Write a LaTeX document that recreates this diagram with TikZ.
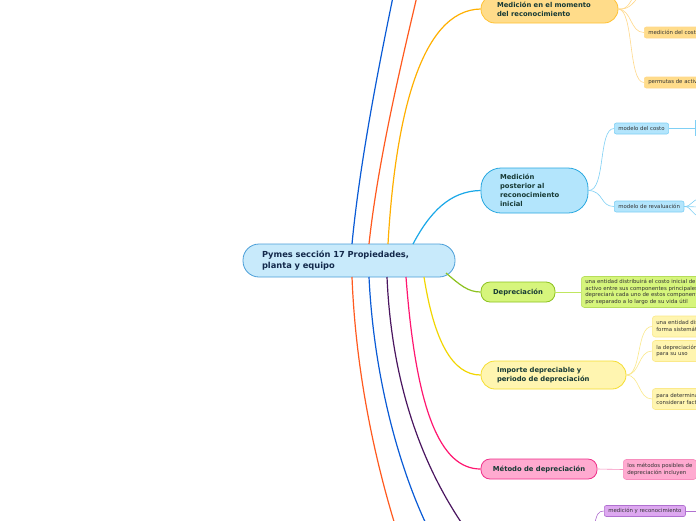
\documentclass[tikz,border=0pt]{standalone}
\usepackage{fontspec}
\setmainfont{DejaVu Sans}
\begin{document}
\begin{tikzpicture}[x=1pt,y=-1pt,
  conn/.style={line width=1.2pt},
  subconn/.style={line width=0.6pt},
  mainbox/.style={draw, line width=0.8pt, font=\bfseries\fontsize{6.8}{8.8}\selectfont, text=maintext, align=left, inner ysep=0pt},
  subbox/.style={draw, line width=0.6pt, rounded corners=2pt, font=\fontsize{5.4}{6.6}\selectfont, text=subtext, align=left, inner xsep=4pt, inner ysep=0pt, anchor=west}
]
\definecolor{maintext}{HTML}{173A35}
\definecolor{centext}{HTML}{13294B}
\definecolor{subtext}{HTML}{333333}
\definecolor{cenfill}{HTML}{C8EAFB}
\definecolor{cenline}{HTML}{4A9ED8}
\definecolor{orl}{HTML}{FFB000}
\definecolor{orf}{HTML}{FFDC8A}
\definecolor{orb}{HTML}{FFC233}
\definecolor{orsub}{HTML}{FFD98A}
\definecolor{cyl}{HTML}{1AA8E8}
\definecolor{cyf}{HTML}{B3E5FC}
\definecolor{cyb}{HTML}{29A8E0}
\definecolor{cysub}{HTML}{7FD0F5}
\definecolor{grl}{HTML}{8DC21F}
\definecolor{grf}{HTML}{D6F57C}
\definecolor{grsub}{HTML}{B6DE5A}
\definecolor{yel}{HTML}{F2D600}
\definecolor{yef}{HTML}{FFF5B0}
\definecolor{yeb}{HTML}{F5DD30}
\definecolor{yesub}{HTML}{FBE98A}
\definecolor{pkl}{HTML}{FF1670}
\definecolor{pkf}{HTML}{FFAAD0}
\definecolor{pkb}{HTML}{F0308A}
\definecolor{pksub}{HTML}{F78DBD}
\definecolor{pul}{HTML}{4A1660}
\definecolor{puf}{HTML}{DDA8F0}
\definecolor{pub}{HTML}{B070D0}
\definecolor{bll}{HTML}{0A5BD6}
\definecolor{rdl}{HTML}{FF5A1F}

\useasboundingbox (0,0) rectangle (696,520);
\clip (0,0) rectangle (696,520);
\fill[white] (0,0) rectangle (696,520);

% central node
\node[draw=cenline, fill=cenfill, line width=0.8pt, rounded corners=16pt,
  minimum height=33pt, text width=174pt, inner xsep=19pt, inner ysep=0pt,
  align=left, text=centext, font=\bfseries\fontsize{8.3}{11}\selectfont]
  (c) at (349,260.5) {Pymes sección 17 Propiedades,\\planta y equipo};

% coordinates on the central node border
\coordinate (tB) at (352,244);
\coordinate (tR) at (369,244);
\coordinate (tO) at (388,244);
\coordinate (tC) at (413,244);
\coordinate (bR) at (352,277);
\coordinate (bB) at (369,277);
\coordinate (bP) at (387,277);
\coordinate (bK) at (406,277);
\coordinate (bY) at (424,277);
\coordinate (bG) at (446,273);

% off-picture ends
\coordinate (eB) at (394,-8);
\coordinate (eR) at (418,-8);
\coordinate (eRb) at (396,528);
\coordinate (eBb) at (428,528);
\coordinate (ePb) at (465,528);

% main nodes
\node[mainbox, draw=orb, fill=orf, rounded corners=14pt, minimum height=28pt, text width=105pt, inner xsep=16pt]
  (o) at (549.5,9) {Medición en el momento\\del reconocimiento};
\node[mainbox, draw=cyb, fill=cyf, rounded corners=20pt, minimum height=45pt, text width=69pt, inner xsep=19pt]
  (b) at (534.5,190.5) {Medición\\posterior al\\reconocimiento\\inicial};
\node[mainbox, draw=grl, fill=grf, rounded corners=9pt, minimum height=20pt, minimum width=74pt, align=center, inner xsep=4pt]
  (g) at (518,292) {Depreciación};
\node[mainbox, draw=yeb, fill=yef, rounded corners=14pt, minimum height=28pt, text width=113pt, inner xsep=16pt]
  (y) at (553.5,375) {Importe depreciable y\\periodo de depreciación};
\node[mainbox, draw=pkb, fill=pkf, rounded corners=9pt, minimum height=20pt, minimum width=116pt, align=center, inner xsep=4pt]
  (k) at (539,469) {Método de depreciación};

% main connectors
\draw[conn, draw=bll] (tB) .. controls (360,160) and (380,60) .. (eB);
\draw[conn, draw=rdl] (tR) .. controls (378,160) and (402,60) .. (eR);
\draw[conn, draw=orl] (tO) .. controls (395,120) and (420,10) .. (o.west);
\draw[conn, draw=cyl] (tC) .. controls (430,212) and (450,191) .. (b.west);
\draw[conn, draw=grl] (bG) .. controls (460,285) and (468,292) .. (g.west);
\draw[conn, draw=yel] (bY) .. controls (434,340) and (452,375) .. (y.west);
\draw[conn, draw=pkl] (bK) .. controls (416,410) and (440,469) .. (k.west);
\draw[conn, draw=pul] (bP) .. controls (392,390) and (425,470) .. (ePb);
\draw[conn, draw=bll] (bB) .. controls (374,380) and (400,470) .. (eBb);
\draw[conn, draw=rdl] (bR) .. controls (356,380) and (378,470) .. (eRb);

% orange sub nodes
\node[subbox, draw=orsub, fill=orf, minimum height=11pt] (o1) at (644,32.5) {medición del costo};
\node[subbox, draw=orsub, fill=orf, minimum height=11pt] (o2) at (644,82.5) {permutas de activos};
\coordinate (oe1) at (636,-8);
\coordinate (oe2) at (642,-8);
\draw[subconn, draw=orsub] (o.east) .. controls (628,10) and (630,2) .. (oe1);
\draw[subconn, draw=orsub] (o.east) .. controls (630,10) and (634,2) .. (oe2);
\draw[subconn, draw=orsub] (o.east) .. controls (632,10) and (630,32.5) .. (o1.west);
\draw[subconn, draw=orsub] (o.east) .. controls (634,10) and (628,82.5) .. (o2.west);

% blue sub nodes
\node[subbox, draw=cysub, fill=cyf, minimum height=11pt] (b1) at (614,128.5) {modelo del costo};
\node[subbox, draw=cysub, fill=cyf, minimum height=11pt] (b2) at (614,206.5) {modelo de revaluación};
\draw[subconn, draw=cysub] (b.east) .. controls (606,191) and (598,128.5) .. (b1.west);
\draw[subconn, draw=cysub] (b.east) .. controls (604,191) and (600,206.5) .. (b2.west);
\coordinate (b1e) at (695,128.5);
\draw[subconn, draw=cysub] (b1.east) -- (b1e);
\draw[subconn, draw=cysub] (695,120) -- (695,136);
\coordinate (b2e1) at (700,199);
\coordinate (b2e2) at (700,207);
\coordinate (b2e3) at (700,216);
\draw[subconn, draw=cysub] (b2.east) .. controls (692,206.5) and (692,199) .. (b2e1);
\draw[subconn, draw=cysub] (b2.east) -- (b2e2);
\draw[subconn, draw=cysub] (b2.east) .. controls (692,206.5) and (692,216) .. (b2e3);

% green sub node
\node[subbox, draw=grsub, fill=grf, minimum height=31pt, rounded corners=3pt] (g1) at (581,292)
  {una entidad distribuirá el costo inicial de un\\activo entre sus componentes principales y\\depreciará cada uno de estos componentes\\por separado a lo largo de su vida útil};
\draw[subconn, draw=grf!70!grl] (g.east) -- (g1.west);

% yellow sub nodes
\node[subbox, draw=yesub, fill=yef, minimum height=21pt, rounded corners=3pt] (y1) at (652,326.5)
  {una entidad distribuirá el importe depreciable\\forma sistemática a lo largo de su vida útil};
\node[subbox, draw=yesub, fill=yef, minimum height=21pt, rounded corners=3pt] (y2) at (652,351)
  {la depreciación de un activo comenzará\\para su uso};
\node[subbox, draw=yesub, fill=yef, minimum height=21pt, rounded corners=3pt] (y3) at (652,399)
  {para determinar la vida útil\\considerar factores};
\draw[subconn, draw=yesub] (y.east) .. controls (642,375) and (636,326.5) .. (y1.west);
\draw[subconn, draw=yesub] (y.east) .. controls (640,375) and (638,351) .. (y2.west);
\draw[subconn, draw=yesub] (y.east) .. controls (640,375) and (638,399) .. (y3.west);

% pink sub node
\node[subbox, draw=pksub, fill=pkf, minimum height=20pt, rounded corners=3pt] (k1) at (623,469.5)
  {los métodos posibles de\hspace{20pt}\\depreciación incluyen};
\draw[subconn, draw=pksub] (k.east) -- (k1.west);

% purple sub node
\node[subbox, draw=pub, fill=puf, minimum height=11pt] (p1) at (604,511) {medición y reconocimiento};
\coordinate (p1s) at (594,526);
\coordinate (p1e) at (697,511);
\draw[subconn, draw=pub] (p1s) .. controls (597,514) and (598,511) .. (p1.west);
\draw[subconn, draw=pub] (p1.east) -- (p1e);
\end{tikzpicture}
\end{document}
